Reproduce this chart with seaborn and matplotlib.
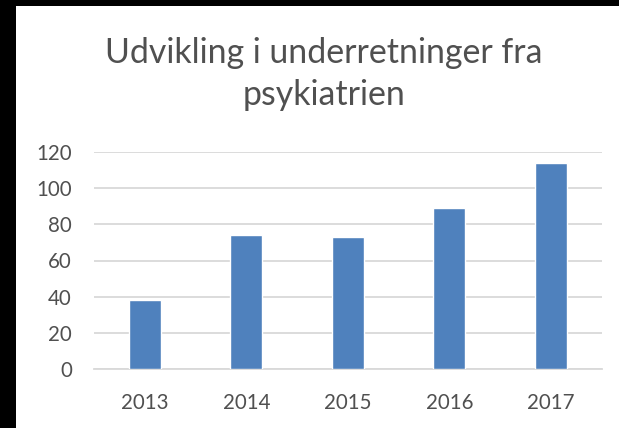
import matplotlib
matplotlib.use('Agg')
import matplotlib.pyplot as plt
import seaborn as sns
import pandas as pd
from matplotlib.patches import Rectangle

# ── Data ───────────────────────────────────────────────────────────────────────
years = ['2013', '2014', '2015', '2016', '2017']
counts = [38, 74, 73, 89, 114]
y_ticks = [0, 20, 40, 60, 80, 100, 120]
title_lines = ['Udvikling i underretninger fra', 'psykiatrien']

df = pd.DataFrame({'year': years, 'count': counts})

# ── Style ──────────────────────────────────────────────────────────────────────
sns.set_theme(style='white')
plt.rcParams['font.family'] = ['Lato', 'DejaVu Sans']
text_col = '#505050'
grid_col = '#d9d9d9'

fig = plt.figure(figsize=(6.19, 4.28), dpi=100)
fig.patch.set_facecolor('white')

# black frame strips at the top and left edge of the screenshot
fig.add_artist(Rectangle((0, 0), 16 / 619, 1, transform=fig.transFigure,
                         facecolor='black', edgecolor='none', zorder=10))
fig.add_artist(Rectangle((0, 1 - 6 / 428), 1, 6 / 428, transform=fig.transFigure,
                         facecolor='black', edgecolor='none', zorder=10))

ax = fig.add_axes([94 / 619, 58.7 / 428, 507.7 / 619, 217.6 / 428])

sns.barplot(data=df, x='year', y='count', order=years, color='#4f81bd',
            width=0.315, saturation=1, ax=ax, zorder=3)

ax.set_ylim(0, 120)
ax.set_xlim(-0.5, 4.5)
ax.set_yticks(y_ticks)
ax.set_yticklabels([str(t) for t in y_ticks])
ax.yaxis.grid(True, color=grid_col, linewidth=1.3, zorder=0)
ax.set_axisbelow(True)
for side in ['left', 'right', 'top']:
    ax.spines[side].set_visible(False)
ax.spines['bottom'].set_color(grid_col)
ax.spines['bottom'].set_linewidth(1.3)
ax.tick_params(axis='both', length=0, labelsize=14.8, colors=text_col)
ax.tick_params(axis='y', pad=16)
ax.tick_params(axis='x', pad=17)
ax.set_xlabel('')
ax.set_ylabel('')

fig.text(324 / 619, 1 - 63 / 428, title_lines[0], ha='center', va='baseline',
         fontsize=24.4, color=text_col)
fig.text(324 / 619, 1 - 105 / 428, title_lines[1], ha='center', va='baseline',
         fontsize=24.4, color=text_col)

plt.savefig('out.png', dpi=100)
plt.close()
print("Saved out.png")
